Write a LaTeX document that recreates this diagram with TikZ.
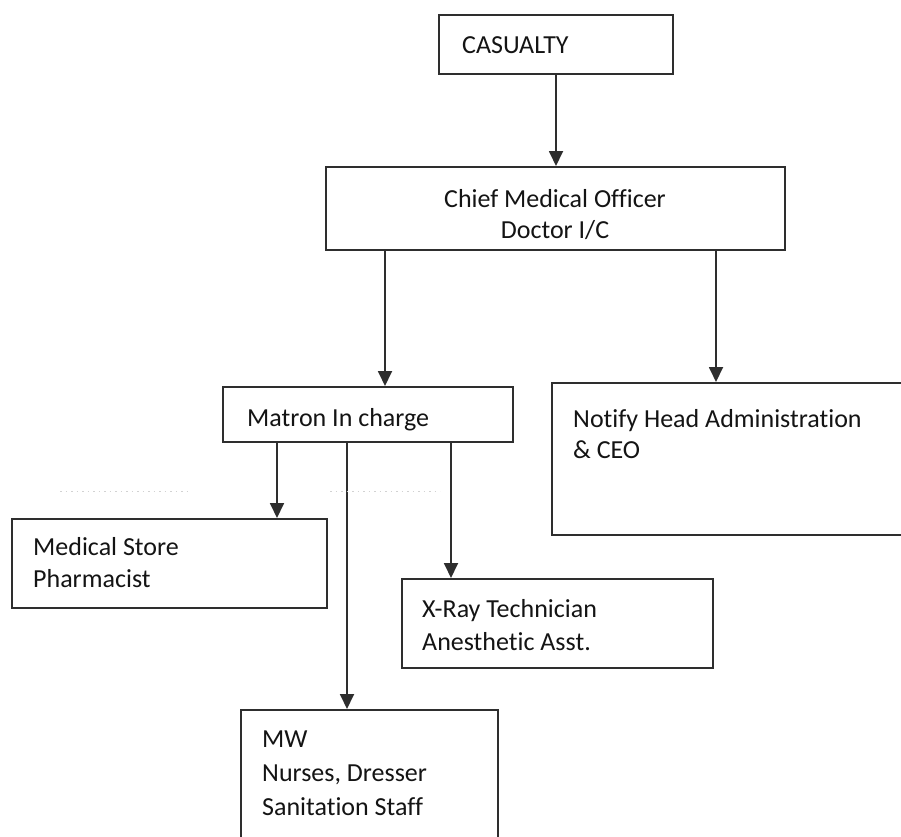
\documentclass[tikz,border=0pt]{standalone}
\usepackage{fontspec}
\setmainfont{Carlito}[Ligatures=NoCommon]
\usetikzlibrary{arrows.meta}
\definecolor{ink}{HTML}{2E2E2E}
\begin{document}
\begin{tikzpicture}[x=1pt,y=-1pt,
  box/.style={draw=ink, line width=2pt, rectangle, inner sep=0pt},
  lbl/.style={inner sep=0pt, font=\fontsize{26}{#1}\selectfont, text=black!92},
  lbl/.default=32,
  arr/.style={draw=ink, line width=1.8pt, -{Triangle[length=15pt,width=14pt]}}]
\useasboundingbox (0,0) rectangle (901,836);
\clip (0,0) rectangle (901,836);
\fill[white] (0,0) rectangle (901,836);
% boxes
\node[box, minimum width=234pt, minimum height=59pt] (cas) at (556,44.5) {};
\node[box, minimum width=459pt, minimum height=83pt] (cmo) at (555.5,208.5) {};
\node[box, minimum width=290pt, minimum height=55pt] (mat) at (368,414.5) {};
\node[box, minimum width=368pt, minimum height=152pt] (notify) at (736,459) {};
\node[box, minimum width=315pt, minimum height=89pt] (med) at (169.5,563.5) {};
\node[box, minimum width=311pt, minimum height=89pt] (xray) at (557.5,623.5) {};
\node[box, minimum width=257pt, minimum height=150pt] (mw) at (369.5,785) {};
% texts (base anchor = baseline of last line)
\node[lbl, anchor=base west] (castxt) at (462,53) {CASUALTY};
\node[lbl=31, anchor=base, align=center] (cmotxt) at (555,238) {Chief Medical Officer\\Doctor I/C};
\node[lbl, anchor=base west] (mattxt) at (247,426) {Matron In charge};
\node[lbl=31, anchor=base west, align=left] (nottxt) at (573,458) {Notify Head Administration\\\& CEO};
\node[lbl=32, anchor=base west, align=left] (medtxt) at (33,587) {Medical Store\\Pharmacist};
\node[lbl=33, anchor=base west, align=left] (xraytxt) at (422,650) {X-Ray Technician\\Anesthetic Asst.};
\node[lbl=34, anchor=base west, align=left] (mwtxt) at (262,815) {MW\\Nurses, Dresser\\Sanitation Staff};
% connectors
\draw[arr] (cas.south -| 556,0) -- (cmo.north -| 556,0);
\draw[arr] (cmo.south -| 385,0) -- (mat.north -| 385,0);
\draw[arr] (cmo.south -| 716,0) -- (notify.north -| 716,0);
\draw[arr] (mat.south -| 277,0) -- (med.north -| 277,0);
\draw[arr] (mat.south -| 347,0) -- (mw.north -| 347,0);
\draw[arr] (mat.south -| 451,0) -- (xray.north -| 451,0);
% faint scan marks
\draw[gray!35, line width=1pt, dash pattern=on 1.5pt off 4pt] (60,491) -- (190,491);
\draw[gray!35, line width=1pt, dash pattern=on 1.5pt off 4pt] (330,491) -- (440,491);
\end{tikzpicture}
\end{document}
